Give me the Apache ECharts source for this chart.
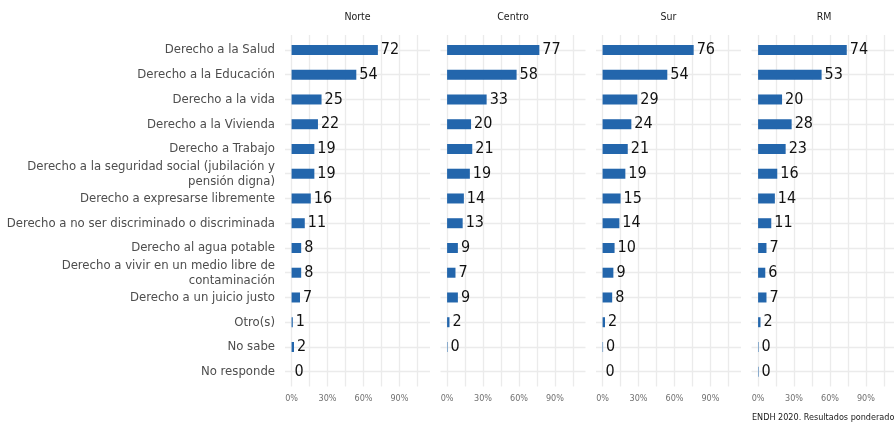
<!DOCTYPE html>
<html>
<head>
<meta charset="utf-8">
<script src="https://cdn.jsdelivr.net/npm/echarts@6/dist/echarts.min.js"></script>
<style>
html,body{margin:0;padding:0;background:#fff;}
#c{width:894px;height:423px;}
</style>
</head>
<body>
<div id="c"></div>
<script>
const categories = [
  'Derecho a la Salud',
  'Derecho a la Educación',
  'Derecho a la vida',
  'Derecho a la Vivienda',
  'Derecho a Trabajo',
  'Derecho a la seguridad social (jubilación y\npensión digna)',
  'Derecho a expresarse libremente',
  'Derecho a no ser discriminado o discriminada',
  'Derecho al agua potable',
  'Derecho a vivir en un medio libre de\ncontaminación',
  'Derecho a un juicio justo',
  'Otro(s)',
  'No sabe',
  'No responde'
];
const regions = ['Norte', 'Centro', 'Sur', 'RM'];
const norte  = [72, 54, 25, 22, 19, 19, 16, 11, 8, 8, 7, 1, 2, 0];
const centro = [77, 58, 33, 20, 21, 19, 14, 13, 9, 7, 9, 2, 0.4, null];
const sur    = [76, 54, 29, 24, 21, 19, 15, 14, 10, 9, 8, 2, 0.4, 0];
const rm     = [74, 53, 20, 28, 23, 16, 14, 11, 7, 6, 7, 2, 0.4, 0.4];
const xTickLabels = [0, 30, 60, 90];
const xGridValues = [0, 15, 30, 45, 60, 75, 90, 105];
const footer = 'ENDH 2020. Resultados ponderados';

const seriesValues = [norte, centro, sur, rm];
const NARROW = '"DejaVu Sans Condensed", "Liberation Sans Narrow", sans-serif';
const panelLeft = [285, 440.5, 596, 751.5];
const panelW = 145;
const XMIN = -5.5, XMAX = 115.5;
const gridColor = '#ebebeb';

const grids = [], xAxes = [], yAxes = [], series = [], graphics = [];
const yGridValues = categories.map((c, i) => i);

regions.forEach((r, i) => {
  grids.push({left: panelLeft[i], top: 35, width: panelW, height: 351.5, containLabel: false, outerBoundsMode: 'none'});
  xAxes.push({
    type: 'value', gridIndex: i, min: XMIN, max: XMAX,
    axisLine: {show: false},
    axisTick: {show: false, customValues: xGridValues},
    axisLabel: {customValues: xTickLabels, formatter: '{value}%', fontSize: 9, color: '#707070', margin: 8, fontFamily: NARROW},
    splitLine: {show: true, lineStyle: {color: gridColor, width: 1.3}}
  });
  yAxes.push({
    type: 'value', gridIndex: i, min: -0.6, max: 13.6, inverse: true,
    axisLine: {show: false},
    axisTick: {show: false, customValues: yGridValues},
    axisLabel: {show: false},
    splitLine: {show: true, lineStyle: {color: gridColor, width: 1.3}}
  });
});

regions.forEach((r, i) => {
  const gi = 4 + i;
  grids.push({left: panelLeft[i], top: 37.6, width: panelW, height: 346.5, containLabel: false, outerBoundsMode: 'none'});
  xAxes.push({type: 'value', gridIndex: gi, min: XMIN, max: XMAX, show: false});
  yAxes.push({
    type: 'category', gridIndex: gi, data: categories, inverse: true,
    axisLine: {show: false}, axisTick: {show: false}, splitLine: {show: false},
    axisLabel: {
      show: i === 0, fontSize: 13, color: '#4d4d4d', margin: 10, lineHeight: 15,
      fontFamily: NARROW, interval: 0
    }
  });
  series.push({
    type: 'bar', name: r, xAxisIndex: gi, yAxisIndex: gi,
    data: seriesValues[i], barWidth: 10,
    itemStyle: {color: '#2366ac'},
    label: {
      show: true, position: 'right', distance: 3,
      fontSize: 16, color: '#111', fontFamily: NARROW,
      formatter: p => (p.value == null ? '' : String(Math.round(p.value)))
    },
    silent: true
  });
  graphics.push({
    type: 'text', x: panelLeft[i] + panelW / 2, y: 17,
    style: {text: r, font: '10.5px ' + NARROW, fill: '#1a1a1a', textAlign: 'center', textVerticalAlign: 'middle'}
  });
});

graphics.push({
  type: 'text', x: 752, y: 418,
  style: {text: footer, font: '9px ' + NARROW, fill: '#1a1a1a', textAlign: 'left', textVerticalAlign: 'middle'}
});

const chart = echarts.init(document.getElementById('c'), null, {renderer: 'canvas'});
chart.setOption({
  animation: false,
  backgroundColor: '#fff',
  grid: grids,
  xAxis: xAxes,
  yAxis: yAxes,
  series: series,
  graphic: graphics
});
</script>
</body>
</html>
